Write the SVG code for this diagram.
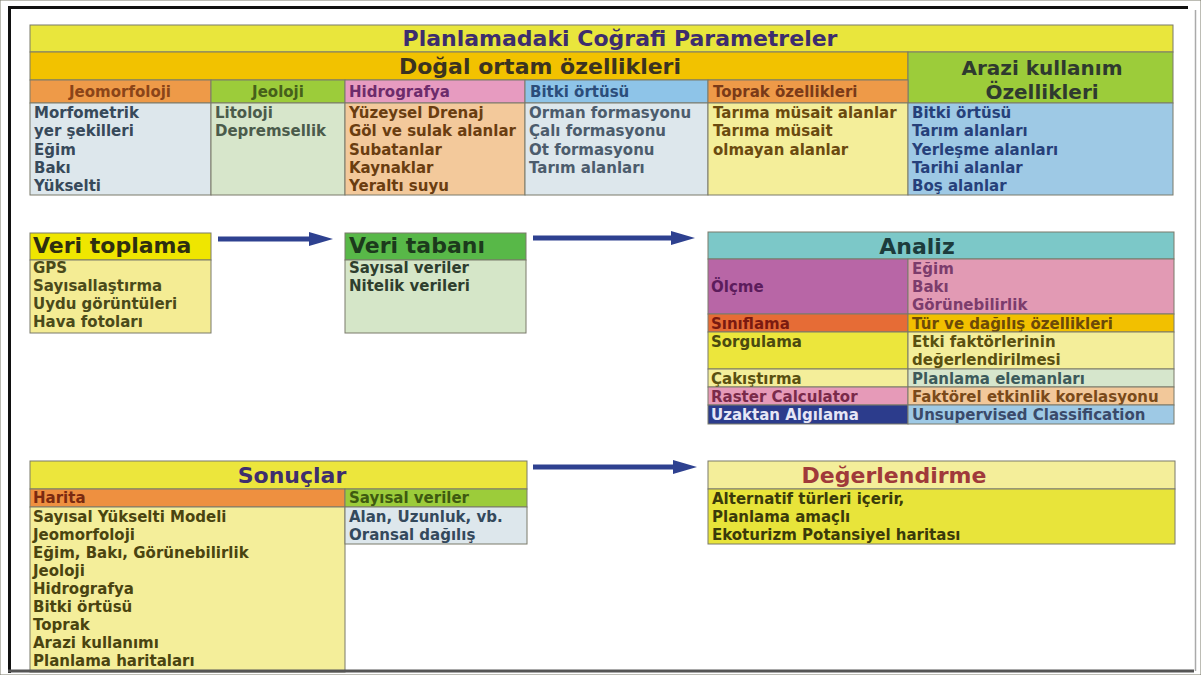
<svg xmlns="http://www.w3.org/2000/svg" width="1201" height="675" viewBox="0 0 1201 675">
<defs>
<style>
text{font-family:"DejaVu Sans","Liberation Sans",sans-serif;font-weight:bold;font-size:15px}
.c{fill:none}
rect{stroke:#7a7a6a;stroke-width:1}
.big{font-size:22px}
.mid{text-anchor:middle}
.arr{stroke:#2e4190;stroke-width:5;fill:none}
</style>
<marker id="ah" markerUnits="userSpaceOnUse" markerWidth="26" markerHeight="16" refX="2" refY="7" orient="auto">
<path d="M0,0 L24,7 L0,14 Z" fill="#2e4190"/>
</marker>
</defs>
<rect x="0" y="0" width="1201" height="675" fill="#ffffff" stroke="none"/>

<g id="parametreler">
<rect x="30" y="25" width="1143" height="27" fill="#e9e63c"/>
<text x="620" y="46" class="big mid" fill="#3d2d6e">Planlamadaki Coğrafi Parametreler</text>
<rect x="30" y="52" width="878" height="28" fill="#f2c200"/>
<text x="540" y="74" class="big mid" fill="#3b3320">Doğal ortam özellikleri</text>
<rect x="908" y="52" width="265" height="51" fill="#9ccc3a"/>
<text x="1042" y="75" class="mid" font-size="20" style="font-size:20px" fill="#2f3a2f">Arazi kullanım</text>
<text x="1042" y="99" class="mid" style="font-size:20px" fill="#2f3a2f">Özellikleri</text>

<rect x="30" y="80" width="181" height="23" fill="#ee9a48"/>
<rect x="211" y="80" width="134" height="23" fill="#9ccc3a"/>
<rect x="345" y="80" width="180" height="23" fill="#e79bc0"/>
<rect x="525" y="80" width="183" height="23" fill="#8ec4e8"/>
<rect x="708" y="80" width="200" height="23" fill="#ee9a48"/>
<text x="120" y="97" class="mid" fill="#8a4418">Jeomorfoloji</text>
<text x="278" y="97" class="mid" fill="#46601a">Jeoloji</text>
<text x="349" y="97" fill="#6d2b6b">Hidrografya</text>
<text x="530" y="97" fill="#2b4d7a">Bitki örtüsü</text>
<text x="713" y="97" fill="#7a3a18">Toprak özellikleri</text>

<rect x="30" y="103" width="181" height="92" fill="#dde7ec"/>
<rect x="211" y="103" width="134" height="92" fill="#d7e6cb"/>
<rect x="345" y="103" width="180" height="92" fill="#f3c99b"/>
<rect x="525" y="103" width="183" height="92" fill="#dde7ec"/>
<rect x="708" y="103" width="200" height="92" fill="#f4ee9a"/>
<rect x="908" y="103" width="265" height="92" fill="#9ec9e5"/>
<text fill="#37495a"><tspan x="34" y="118">Morfometrik</tspan><tspan x="34" y="136.3">yer şekilleri</tspan><tspan x="34" y="154.6">Eğim</tspan><tspan x="34" y="172.9">Bakı</tspan><tspan x="34" y="191.2">Yükselti</tspan></text>
<text fill="#4b5b4b"><tspan x="215" y="118">Litoloji</tspan><tspan x="215" y="136.3">Depremsellik</tspan></text>
<text fill="#6a3d10"><tspan x="349" y="118">Yüzeysel Drenaj</tspan><tspan x="349" y="136.3">Göl ve sulak alanlar</tspan><tspan x="349" y="154.6">Subatanlar</tspan><tspan x="349" y="172.9">Kaynaklar</tspan><tspan x="349" y="191.2">Yeraltı suyu</tspan></text>
<text fill="#4c5c6c"><tspan x="529" y="118">Orman formasyonu</tspan><tspan x="529" y="136.3">Çalı formasyonu</tspan><tspan x="529" y="154.6">Ot formasyonu</tspan><tspan x="529" y="172.9">Tarım alanları</tspan></text>
<text fill="#6b4a0f"><tspan x="713" y="118">Tarıma müsait alanlar</tspan><tspan x="713" y="136.3">Tarıma müsait</tspan><tspan x="713" y="154.6">olmayan alanlar</tspan></text>
<text fill="#26407a"><tspan x="912" y="118">Bitki örtüsü</tspan><tspan x="912" y="136.3">Tarım alanları</tspan><tspan x="912" y="154.6">Yerleşme alanları</tspan><tspan x="912" y="172.9">Tarihi alanlar</tspan><tspan x="912" y="191.2">Boş alanlar</tspan></text>
</g>

<g id="veri-toplama">
<rect x="30" y="233" width="181" height="27" fill="#efe600"/>
<text x="33" y="253" class="big" fill="#2e2e10">Veri toplama</text>
<rect x="30" y="260" width="181" height="73" fill="#f4ec94"/>
<text fill="#4a4a1a"><tspan x="33" y="273">GPS</tspan><tspan x="33" y="291">Sayısallaştırma</tspan><tspan x="33" y="309">Uydu görüntüleri</tspan><tspan x="33" y="327">Hava fotoları</tspan></text>
</g>

<g id="veri-tabani">
<rect x="345" y="233" width="181" height="27" fill="#58b848"/>
<text x="349" y="253" class="big" fill="#1c3a1c">Veri tabanı</text>
<rect x="345" y="260" width="181" height="73" fill="#d5e6c8"/>
<text fill="#2e3e2e"><tspan x="349" y="273">Sayısal veriler</tspan><tspan x="349" y="291">Nitelik verileri</tspan></text>
</g>

<g id="analiz">
<rect x="708" y="232" width="466" height="27" fill="#7cc8c8"/>
<text x="917" y="254" class="big mid" fill="#1c3c3c">Analiz</text>
<rect x="708" y="259" width="200" height="55" fill="#b866a6"/>
<rect x="908" y="259" width="266" height="55" fill="#e29ab4"/>
<text x="711" y="292" fill="#5c1c5c">Ölçme</text>
<text fill="#7c3c6c"><tspan x="912" y="274">Eğim</tspan><tspan x="912" y="292">Bakı</tspan><tspan x="912" y="310">Görünebilirlik</tspan></text>
<rect x="708" y="314" width="200" height="18" fill="#e66c36"/>
<rect x="908" y="314" width="266" height="18" fill="#f2c000"/>
<text x="711" y="329" fill="#7a1a10">Sınıflama</text>
<text x="912" y="329" fill="#6c4a08">Tür ve dağılış özellikleri</text>
<rect x="708" y="332" width="200" height="37" fill="#ece63c"/>
<rect x="908" y="332" width="266" height="37" fill="#f4ee9a"/>
<text x="711" y="347" fill="#4a4a10">Sorgulama</text>
<text fill="#5a5010"><tspan x="912" y="347">Etki faktörlerinin</tspan><tspan x="912" y="365">değerlendirilmesi</tspan></text>
<rect x="708" y="369" width="200" height="18" fill="#f4ee9a"/>
<rect x="908" y="369" width="266" height="18" fill="#d6e6cc"/>
<text x="711" y="384" fill="#5a5010">Çakıştırma</text>
<text x="912" y="384" fill="#3c5a5a">Planlama elemanları</text>
<rect x="708" y="387" width="200" height="18" fill="#e69ab8"/>
<rect x="908" y="387" width="266" height="18" fill="#f2c89a"/>
<text x="711" y="402" fill="#7a2a4a">Raster Calculator</text>
<text x="912" y="402" fill="#7a4a1a">Faktörel etkinlik korelasyonu</text>
<rect x="708" y="405" width="200" height="19" fill="#2c3c8c"/>
<rect x="908" y="405" width="266" height="19" fill="#9ec9e5"/>
<text x="711" y="420" fill="#e6e6f6">Uzaktan Algılama</text>
<text x="912" y="420" fill="#3a4a6a">Unsupervised Classification</text>
</g>

<g id="sonuclar">
<rect x="30" y="461" width="497" height="28" fill="#ece63c"/>
<text x="292" y="483" class="big mid" fill="#3e2e6e">Sonuçlar</text>
<rect x="30" y="489" width="315" height="18" fill="#ee9040"/>
<text x="33" y="503" fill="#7a2a10">Harita</text>
<rect x="345" y="489" width="182" height="18" fill="#9ccc3a"/>
<text x="349" y="503" fill="#3e5a10">Sayısal veriler</text>
<rect x="30" y="507" width="315" height="165" fill="#f4ee9a"/>
<text fill="#4a4410"><tspan x="33" y="522">Sayısal Yükselti Modeli</tspan><tspan x="33" y="540">Jeomorfoloji</tspan><tspan x="33" y="558">Eğim, Bakı, Görünebilirlik</tspan><tspan x="33" y="576">Jeoloji</tspan><tspan x="33" y="594">Hidrografya</tspan><tspan x="33" y="612">Bitki örtüsü</tspan><tspan x="33" y="630">Toprak</tspan><tspan x="33" y="648">Arazi kullanımı</tspan><tspan x="33" y="666">Planlama haritaları</tspan></text>
<rect x="345" y="507" width="182" height="37" fill="#dde7ec"/>
<text fill="#34495c"><tspan x="349" y="522">Alan, Uzunluk, vb.</tspan><tspan x="349" y="540">Oransal dağılış</tspan></text>
</g>

<g id="degerlendirme">
<rect x="708" y="461" width="467" height="28" fill="#f4ee9a"/>
<text x="894" y="483" class="big mid" fill="#a03a3a">Değerlendirme</text>
<rect x="708" y="489" width="467" height="55" fill="#e8e43a"/>
<text fill="#3a3a0a"><tspan x="712" y="504">Alternatif türleri içerir,</tspan><tspan x="712" y="522">Planlama amaçlı</tspan><tspan x="712" y="540">Ekoturizm Potansiyel haritası</tspan></text>
</g>

<g id="connectors">
<line class="arr" x1="218" y1="239" x2="311" y2="239" marker-end="url(#ah)"/>
<line class="arr" x1="533" y1="238" x2="673" y2="238" marker-end="url(#ah)"/>
<line class="arr" x1="533" y1="467" x2="675" y2="467" marker-end="url(#ah)"/>
</g>

<g id="frame">
<line x1="8" y1="7.5" x2="1188" y2="7.5" stroke="#111" stroke-width="3"/>
<line x1="9.5" y1="6" x2="9.5" y2="673" stroke="#111" stroke-width="3"/>
<line x1="8" y1="671" x2="1194" y2="671" stroke="#555" stroke-width="3"/>
<line x1="1195.5" y1="10" x2="1195.5" y2="671" stroke="#aaa" stroke-width="1.5"/>
</g>
</svg>
